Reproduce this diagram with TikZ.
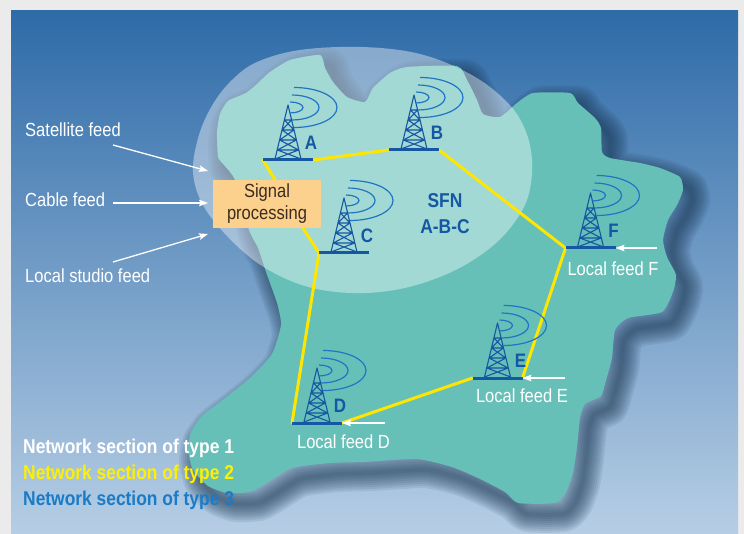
\documentclass[tikz,border=0pt]{standalone}
\usepackage{fontspec}
\setmainfont{Liberation Sans}[FakeStretch=0.87]
\usetikzlibrary{arrows.meta}

\definecolor{bggray}{HTML}{EBEBEB}
\definecolor{paneltop}{HTML}{2E6BA8}
\definecolor{panelbot}{HTML}{B6CEE5}
\definecolor{landc}{HTML}{67C0B8}
\definecolor{shadowc}{HTML}{1A3550}
\definecolor{towerc}{HTML}{1657A2}
\definecolor{wavec}{HTML}{1F75C4}
\definecolor{labc}{HTML}{1458A3}
\definecolor{boxc}{HTML}{FCD08D}
\definecolor{boxtext}{HTML}{3A2C1E}
\definecolor{netyellow}{HTML}{FFE600}
\definecolor{legyellow}{HTML}{FFF000}
\definecolor{legblue}{HTML}{1A7BC6}

\pgfdeclarelayer{bg}
\pgfdeclarelayer{net}
\pgfsetlayers{bg,net,main}

% outline of the coverage area
\newcommand\landshape{plot[smooth cycle, tension=0.35] coordinates {
 (218,157) (217,132) (220,114) (228,101) (246,93) (257,84) (270,72) (290,60)
 (320,55) (325,68) (333,82) (347,97) (365,102) (373,88) (390,73) (407,67)
 (457,66) (467,80) (477,100) (483,114) (500,117) (517,103) (533,93) (570,93)
 (578,103) (595,118) (601,128) (602,152) (610,158) (640,163) (660,168) (680,177)
 (683,190) (677,205) (668,220) (663,240) (667,257) (676,275) (673,292) (662,312)
 (628,318) (615,330) (612,358) (606,380) (601,396) (585,404) (580,418) (577,447)
 (573,473) (566,492) (555,503) (518,503) (505,492) (478,478) (452,467) (417,459)
 (363,462) (330,463) (292,468) (265,484) (250,492) (227,493) (208,486) (193,470)
 (188,450) (191,432) (202,416) (220,402) (250,378) (272,354) (281,325) (277,303)
 (266,272) (258,248) (249,230) (235,180) (224,165)}}

% single frequency network zone
\newcommand\sfnzone{plot[smooth cycle, tension=0.6] coordinates {
 (193,172) (199,135) (213,104) (232,80) (257,62) (300,50) (362,47) (420,54)
 (470,74) (505,100) (524,127) (532,160) (528,197) (511,227) (485,252) (447,274)
 (400,289) (352,293) (305,286) (262,266) (228,237) (203,205)}}

\tikzset{
  netline/.style={netyellow, line width=3pt, line cap=round},
  feedarrow/.style={white, line width=1.3pt, -{Stealth[length=9pt,width=6.5pt,inset=1.5pt]}},
  lettr/.style={font=\bfseries\fontsize{19.5}{20}\selectfont, text=labc, inner sep=0pt},
  feedtext/.style={font=\fontsize{19}{22}\selectfont, text=white, inner sep=0pt},
  legendtext/.style={font=\bfseries\fontsize{20}{24}\selectfont, inner sep=0pt, anchor=base west},
  tower/.pic={
    \draw[towerc, line width=1.1pt, line join=round]
      (-13,-1) -- (0,-55) -- (13,-1)
      (-10.6,-10) -- (10.6,-10)
      (-8.3,-20) -- (8.3,-20)
      (-5.9,-30) -- (5.9,-30)
      (-3.5,-40) -- (3.5,-40)
      (-13,-1) -- (10.6,-10)  (13,-1) -- (-10.6,-10)
      (-10.6,-10) -- (8.3,-20)  (10.6,-10) -- (-8.3,-20)
      (-8.3,-20) -- (5.9,-30)  (8.3,-20) -- (-5.9,-30)
      (-5.9,-30) -- (3.5,-40)  (5.9,-30) -- (-3.5,-40);
    \draw[wavec, line width=1.2pt]
      (2,-58) arc[start angle=-90, end angle=90, x radius=13, y radius=5.5]
      (4,-65) arc[start angle=-90, end angle=90, x radius=27, y radius=12.5]
      (6,-72.5) arc[start angle=-90, end angle=90, x radius=43, y radius=20];
    \draw[towerc, line width=3pt] (-25,0) -- (25,0);
    \coordinate (-l) at (-25,0);
    \coordinate (-r) at (25,0);
    \node[lettr] (-lab) at (23,-17.5) {#1};
  }
}

\begin{document}
\begin{tikzpicture}[x=1pt, y=-1pt]
\useasboundingbox (0,0) rectangle (744,534);

\begin{pgfonlayer}{bg}
  \fill[bggray] (0,0) rectangle (744,534);
  \shade[top color=paneltop, bottom color=panelbot] (11,11) rectangle (738,534);
  % soft drop shadow of the area, cast towards the lower right
  \begin{scope}[shift={(9,11)}]
    \foreach \w in {36,32,...,4} {
      \draw[shadowc, line width=\w pt, opacity=0.095, line join=round] \landshape;
    }
  \end{scope}
  \fill[landc] \landshape;
  \fill[white, opacity=0.4] \sfnzone;
\end{pgfonlayer}

% transmitters
\pic (A) at (288,160) {tower=A};
\pic (B) at (414,150) {tower=B};
\pic (C) at (344,253) {tower=C};
\pic (D) at (317,423) {tower=D};
\pic (E) at (497.5,378) {tower=E};
\pic (F) at (590.5,248) {tower=F};

% signal processing unit
\node[fill=boxc, minimum width=108pt, minimum height=48pt, inner sep=0pt,
      align=center, text=boxtext, font=\fontsize{19}{22}\selectfont]
  (sp) at (267,204) {Signal\\processing};

% distribution network
\begin{pgfonlayer}{net}
  \draw[netline] (A-l) -- ([xshift=8pt]sp.north);
  \draw[netline] (A-r) -- (B-l);
  \draw[netline] (B-r) -- (F-l);
  \draw[netline] (F-l) -- (E-r);
  \draw[netline] (E-l) -- (D-r);
  \draw[netline] (D-l) -- (C-l);
  \draw[netline] (C-l) -- ([xshift=36pt]sp.south);
\end{pgfonlayer}

\node[font=\bfseries\fontsize{20}{26}\selectfont, text=labc, align=center, inner sep=0pt]
  (sfn) at (445,214) {SFN\\A-B-C};

% programme feeds into the processing unit
\node[feedtext, anchor=base west] (satl) at (25,137) {Satellite feed};
\node[feedtext, anchor=base west] (cabl) at (25,207) {Cable feed};
\node[feedtext, anchor=base west] (locl) at (25,283) {Local studio feed};
\coordinate (satfrom) at (113,145);
\coordinate (satto) at (208,171);
\coordinate (cabfrom) at (113,203);
\coordinate (cabto) at (208,203);
\coordinate (locfrom) at (113,262);
\coordinate (locto) at (208,234);
\draw[feedarrow] (satfrom) -- (satto);
\draw[feedarrow] (cabfrom) -- (cabto);
\draw[feedarrow] (locfrom) -- (locto);

% local feeds at the transmitters
\coordinate (Dfeed) at (385,423);
\coordinate (Efeed) at (565,378);
\coordinate (Ffeed) at (657,248);
\draw[feedarrow] (Dfeed) -- (D-r);
\draw[feedarrow] (Efeed) -- (E-r);
\draw[feedarrow] (Ffeed) -- (F-r);
\node[feedtext, anchor=base] (Dl) at (343.5,448) {Local feed D};
\node[feedtext, anchor=base] (El) at (522,402) {Local feed E};
\node[feedtext, anchor=base] (Fl) at (613,276) {Local feed F};

% legend
\node[legendtext, text=white] (leg1) at (23,453) {Network section of type 1};
\node[legendtext, text=legyellow] (leg2) at (23,479) {Network section of type 2};
\node[legendtext, text=legblue] (leg3) at (23,505) {Network section of type 3};
\end{tikzpicture}
\end{document}
